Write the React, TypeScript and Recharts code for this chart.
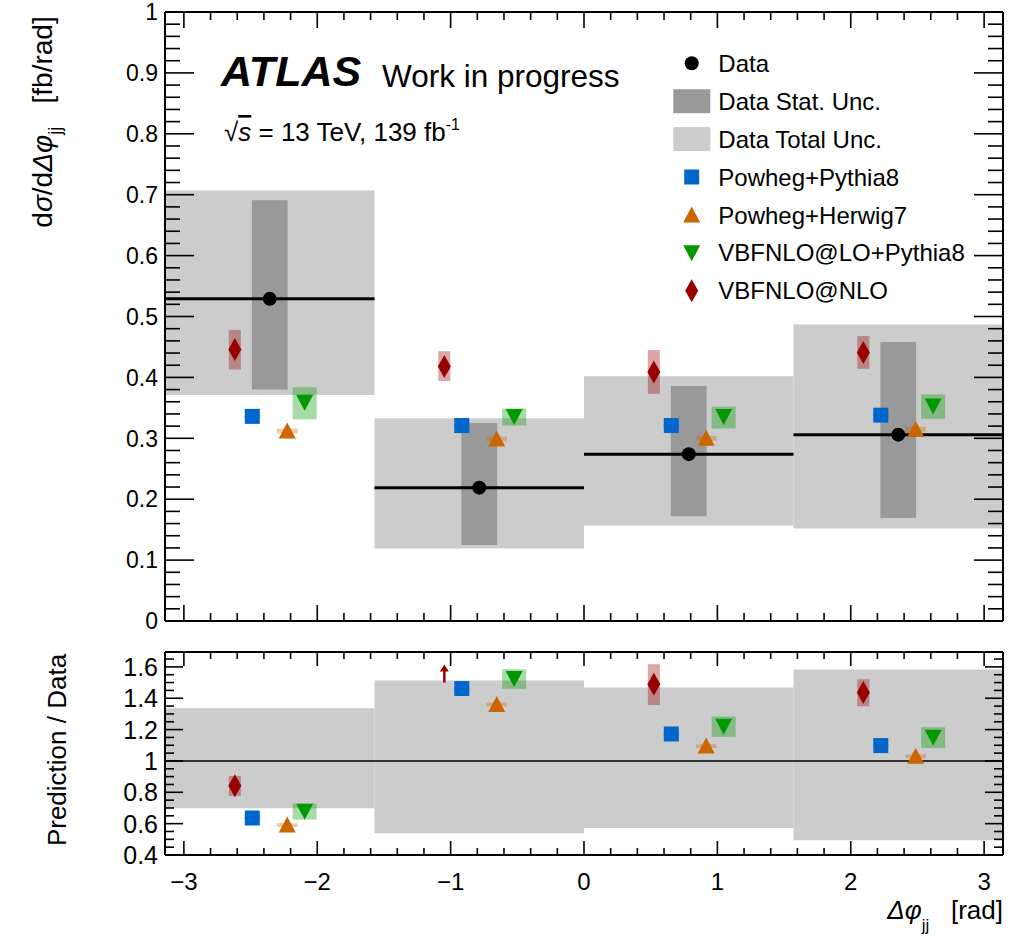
import React from 'react'
import { ComposedChart, Scatter, XAxis, YAxis, ReferenceArea, ReferenceLine, Legend } from 'recharts'

const PI = Math.PI
const FONT = '"Liberation Sans", Arial, Helvetica, sans-serif'

// four bins in delta phi_jj
const BIN_LO = [-PI, -PI / 2, 0, PI / 2]
const BIN_HI = [-PI / 2, 0, PI / 2, PI]
const BIN_MID = [-3 * PI / 4, -PI / 4, PI / 4, 3 * PI / 4]

// measured cross-section [fb/rad]
const DATA_Y = [0.529, 0.219, 0.274, 0.306]
const STAT_LO = [0.38, 0.125, 0.172, 0.169]
const STAT_HI = [0.691, 0.325, 0.386, 0.458]
const TOTAL_LO = [0.371, 0.119, 0.157, 0.152]
const TOTAL_HI = [0.707, 0.333, 0.402, 0.487]

// predictions
const PYTHIA_Y = [0.336, 0.321, 0.321, 0.338]
const PYTHIA_LO = [0.334, 0.319, 0.319, 0.336]
const PYTHIA_HI = [0.338, 0.323, 0.323, 0.34]
const HERWIG_Y = [0.312, 0.299, 0.3, 0.315]
const HERWIG_LO = [0.308, 0.295, 0.296, 0.311]
const HERWIG_HI = [0.316, 0.303, 0.304, 0.319]
const LO_Y = [0.359, 0.336, 0.336, 0.353]
const LO_LO = [0.331, 0.321, 0.316, 0.332]
const LO_HI = [0.384, 0.349, 0.352, 0.372]
const NLO_Y = [0.446, 0.418, 0.409, 0.441]
const NLO_LO = [0.413, 0.394, 0.373, 0.414]
const NLO_HI = [0.478, 0.443, 0.445, 0.468]

// prediction / data
const R_TOTAL_LO = [0.698, 0.539, 0.572, 0.494]
const R_TOTAL_HI = [1.336, 1.513, 1.468, 1.583]
const R_PYTHIA = [0.636, 1.462, 1.172, 1.098]
const R_PYTHIA_LO = [0.63, 1.456, 1.166, 1.092]
const R_PYTHIA_HI = [0.642, 1.468, 1.178, 1.104]
const R_HERWIG = [0.591, 1.36, 1.095, 1.03]
const R_HERWIG_LO = [0.579, 1.348, 1.083, 1.018]
const R_HERWIG_HI = [0.603, 1.372, 1.107, 1.042]
const R_LO = [0.679, 1.526, 1.221, 1.151]
const R_LO_LO = [0.626, 1.46, 1.153, 1.083]
const R_LO_HI = [0.728, 1.585, 1.283, 1.215]
const R_NLO = [0.842, 1.907, 1.49, 1.436]
const R_NLO_LO = [0.777, 1.8, 1.357, 1.349]
const R_NLO_HI = [0.904, 2.02, 1.617, 1.521]

const R_MIN = 0.4
const R_MAX = 1.695
const ARROW_BASE = 1.5 // where off-scale points get an arrow

const UP_Y_LABELS = ['0', '0.1', '0.2', '0.3', '0.4', '0.5', '0.6', '0.7', '0.8', '0.9', '1']
const LOW_Y_LABELS = ['0.4', '0.6', '0.8', '1', '1.2', '1.4', '1.6']

function steps(from: number, to: number, step: number) {
  const out: number[] = []
  const n = Math.round((to - from) / step)
  for (let i = 0; i <= n; i++) out.push(Math.round((from + i * step) * 1000) / 1000)
  return out
}
const X_TICKS = steps(-3, 3, 0.2)
const UP_Y_TICKS = steps(0, 1, 0.02)
const LOW_Y_TICKS = steps(0.4, 1.65, 0.05)

const MODELS = [
  { name: 'Powheg+Pythia8', kind: 'square', color: '#0066cc', band: 'rgba(0,102,204,0.35)', dx: -PI / 24, hw: 0.06,
    y: PYTHIA_Y, lo: PYTHIA_LO, hi: PYTHIA_HI, ry: R_PYTHIA, rlo: R_PYTHIA_LO, rhi: R_PYTHIA_HI },
  { name: 'Powheg+Herwig7', kind: 'up', color: '#cc6600', band: 'rgba(204,102,0,0.35)', dx: PI / 24, hw: 0.078,
    y: HERWIG_Y, lo: HERWIG_LO, hi: HERWIG_HI, ry: R_HERWIG, rlo: R_HERWIG_LO, rhi: R_HERWIG_HI },
  { name: 'VBFNLO@LO+Pythia8', kind: 'down', color: '#009900', band: 'rgba(0,153,0,0.35)', dx: PI / 12, hw: 0.09,
    y: LO_Y, lo: LO_LO, hi: LO_HI, ry: R_LO, rlo: R_LO_LO, rhi: R_LO_HI },
  { name: 'VBFNLO@NLO', kind: 'diamond', color: '#990000', band: 'rgba(153,0,0,0.35)', dx: -PI / 12, hw: 0.045,
    y: NLO_Y, lo: NLO_LO, hi: NLO_HI, ry: R_NLO, rlo: R_NLO_LO, rhi: R_NLO_HI },
]

const STAT_HW = 0.134

// plot boxes in svg pixels
const UP = { left: 165, right: 1003, top: 12, bottom: 621 }
const LOW = { left: 165, right: 1003, top: 12, bottom: 215 }

function Marker({ kind, cx, cy, color }: any) {
  if (cx == null || cy == null) return null
  switch (kind) {
    case 'circle':
      return <circle cx={cx} cy={cy} r={7} fill={color} />
    case 'square':
      return <rect x={cx - 7.5} y={cy - 7.5} width={15} height={15} fill={color} />
    case 'up':
      return <path d={`M${cx},${cy - 8.5} L${cx + 8.5},${cy + 7.5} L${cx - 8.5},${cy + 7.5} Z`} fill={color} />
    case 'down':
      return <path d={`M${cx - 8.5},${cy - 7.5} L${cx + 8.5},${cy - 7.5} L${cx},${cy + 8.5} Z`} fill={color} />
    case 'diamond':
      return <path d={`M${cx},${cy - 11.5} L${cx + 6.5},${cy} L${cx},${cy + 11.5} L${cx - 6.5},${cy} Z`} fill={color} />
    case 'arrow':
      return (
        <g>
          <line x1={cx} x2={cx} y1={cy} y2={cy - 13} stroke={color} strokeWidth={2.5} />
          <path d={`M${cx},${cy - 18} L${cx + 4.5},${cy - 11} L${cx - 4.5},${cy - 11} Z`} fill={color} />
        </g>
      )
    default:
      return null
  }
}

const isInt = (v: number, k: number) => Math.abs(v * k - Math.round(v * k)) < 1e-6

function xTick(box: any, major: number, minor: number, labels: boolean) {
  return (props: any) => {
    const x = props.x
    const v = props.payload.value
    const big = isInt(v, 1)
    const len = big ? major : minor
    return (
      <g>
        <line x1={x} x2={x} y1={box.bottom} y2={box.bottom - len} stroke="#000" strokeWidth={1.6} />
        <line x1={x} x2={x} y1={box.top} y2={box.top + len} stroke="#000" strokeWidth={1.6} />
        {labels && big && (
          <text x={x} y={box.bottom + 35} textAnchor="middle" fontSize={24} fontFamily={FONT} fill="#000">
            {v < 0 ? '\u2212' + Math.abs(v) : String(v)}
          </text>
        )}
      </g>
    )
  }
}

function yTick(box: any, major: number, minor: number, k: number, labels: string[], first: number, fs: number) {
  return (props: any) => {
    const y = props.y
    const v = props.payload.value
    const big = isInt(v, k)
    const len = big ? major : minor
    const label = big ? labels[Math.round((v - first) * k)] : null
    return (
      <g>
        <line x1={box.left} x2={box.left + len} y1={y} y2={y} stroke="#000" strokeWidth={1.6} />
        <line x1={box.right} x2={box.right - len} y1={y} y2={y} stroke="#000" strokeWidth={1.6} />
        {label && (
          <text x={box.left - 7} y={y + fs * 0.36} textAnchor="end" fontSize={fs} fontFamily={FONT} fill="#000">
            {label}
          </text>
        )}
      </g>
    )
  }
}

const LEGEND_ROWS = [
  { label: 'Data', kind: 'circle', color: '#000' },
  { label: 'Data Stat. Unc.', kind: 'box', color: '#999999' },
  { label: 'Data Total Unc.', kind: 'box', color: '#cccccc' },
  ...MODELS.map((m) => ({ label: m.name, kind: m.kind, color: m.color })),
]

function LegendBox() {
  return (
    <svg width={340} height={270} style={{ overflow: 'visible' }}>
      {LEGEND_ROWS.map((r, i) => {
        const cy = 23.3 + i * 37.9
        return (
          <g key={r.label}>
            {r.kind === 'box' ? (
              <rect x={13.3} y={cy - 12} width={37} height={24} fill={r.color} />
            ) : (
              <Marker kind={r.kind} cx={31.7} cy={cy} color={r.color} />
            )}
            <text x={58.3} y={cy + 8.6} fontSize={24} fontFamily={FONT} fill="#000">
              {r.label}
            </text>
          </g>
        )
      })}
    </svg>
  )
}

const BINS = [0, 1, 2, 3]

function UpperPanel() {
  return (
    <ComposedChart width={1020} height={640} margin={{ top: 12, right: 17, bottom: 0, left: 105 }}>
      {BINS.map((i) => (
        <ReferenceArea key={'t' + i} x1={BIN_LO[i]} x2={BIN_HI[i]} y1={TOTAL_LO[i]} y2={TOTAL_HI[i]}
          fill="#cccccc" fillOpacity={1} stroke="none" ifOverflow="hidden" />
      ))}
      {BINS.map((i) => (
        <ReferenceArea key={'s' + i} x1={BIN_MID[i] - STAT_HW} x2={BIN_MID[i] + STAT_HW} y1={STAT_LO[i]} y2={STAT_HI[i]}
          fill="#999999" fillOpacity={1} stroke="none" />
      ))}
      {MODELS.map((m) =>
        BINS.map((i) => (
          <ReferenceArea key={m.name + i} x1={BIN_MID[i] + m.dx - m.hw} x2={BIN_MID[i] + m.dx + m.hw}
            y1={m.lo[i]} y2={m.hi[i]} fill={m.band} fillOpacity={1} stroke="none" />
        ))
      )}
      {BINS.map((i) => (
        <ReferenceLine key={'d' + i} segment={[{ x: BIN_LO[i], y: DATA_Y[i] }, { x: BIN_HI[i], y: DATA_Y[i] }]}
          stroke="#000" strokeWidth={3} />
      ))}
      <ReferenceLine y={1} stroke="#000" strokeWidth={2} />
      <ReferenceLine x={PI} stroke="#000" strokeWidth={2} />
      <XAxis type="number" dataKey="x" domain={[-PI, PI]} allowDataOverflow ticks={X_TICKS} interval={0}
        tick={xTick(UP, 16, 8, false)} tickLine={false} axisLine={{ stroke: '#000', strokeWidth: 2 }} height={19} />
      <YAxis type="number" dataKey="y" domain={[0, 1]} allowDataOverflow ticks={UP_Y_TICKS} interval={0}
        tick={yTick(UP, 29, 15, 10, UP_Y_LABELS, 0, 23)} tickLine={false} axisLine={{ stroke: '#000', strokeWidth: 2 }} width={60} />
      {MODELS.map((m) => (
        <Scatter key={m.name} name={m.name} isAnimationActive={false} dataKey="y"
          data={BINS.map((i) => ({ x: BIN_MID[i] + m.dx, y: m.y[i] }))}
          shape={(p: any) => <Marker kind={m.kind} cx={p.cx} cy={p.cy} color={m.color} />} />
      ))}
      <Scatter name="Data" isAnimationActive={false} dataKey="y"
        data={BINS.map((i) => ({ x: BIN_MID[i], y: DATA_Y[i] }))}
        shape={(p: any) => <Marker kind="circle" cx={p.cx} cy={p.cy} color="#000" />} />
      <Legend content={() => <LegendBox />} verticalAlign="middle" align="center" layout="horizontal"
        wrapperStyle={{ top: 40, left: 660, width: 340, height: 270 }} />
    </ComposedChart>
  )
}

function LowerPanel() {
  return (
    <ComposedChart width={1020} height={307} margin={{ top: 12, right: 17, bottom: 42, left: 105 }}>
      {BINS.map((i) => (
        <ReferenceArea key={'t' + i} x1={BIN_LO[i]} x2={BIN_HI[i]} y1={R_TOTAL_LO[i]} y2={R_TOTAL_HI[i]}
          fill="#cccccc" fillOpacity={1} stroke="none" />
      ))}
      {MODELS.map((m) =>
        BINS.filter((i) => m.ry[i] <= R_MAX).map((i) => (
          <ReferenceArea key={m.name + i} x1={BIN_MID[i] + m.dx - m.hw} x2={BIN_MID[i] + m.dx + m.hw}
            y1={m.rlo[i]} y2={m.rhi[i]} fill={m.band} fillOpacity={1} stroke="none" />
        ))
      )}
      <ReferenceLine y={1} stroke="#000" strokeWidth={1.5} />
      <ReferenceLine y={R_MAX} stroke="#000" strokeWidth={2} />
      <ReferenceLine x={PI} stroke="#000" strokeWidth={2} />
      <XAxis type="number" dataKey="x" domain={[-PI, PI]} allowDataOverflow ticks={X_TICKS} interval={0}
        tick={xTick(LOW, 14, 7, true)} tickLine={false} axisLine={{ stroke: '#000', strokeWidth: 2 }} height={50} />
      <YAxis type="number" dataKey="y" domain={[R_MIN, R_MAX]} allowDataOverflow ticks={LOW_Y_TICKS} interval={0}
        tick={yTick(LOW, 18, 9, 5, LOW_Y_LABELS, 0.4, 25)} tickLine={false} axisLine={{ stroke: '#000', strokeWidth: 2 }} width={60} />
      {MODELS.map((m) => (
        <Scatter key={m.name} name={m.name} isAnimationActive={false} dataKey="y"
          data={BINS.map((i) => ({ x: BIN_MID[i] + m.dx, y: m.ry[i] > R_MAX ? ARROW_BASE : m.ry[i], off: m.ry[i] > R_MAX }))}
          shape={(p: any) => <Marker kind={p.payload && p.payload.off ? 'arrow' : m.kind} cx={p.cx} cy={p.cy} color={m.color} />} />
      ))}
    </ComposedChart>
  )
}

function Titles() {
  return (
    <svg width={1020} height={947} style={{ position: 'absolute', left: 0, top: 0, pointerEvents: 'none' }}>
      <g fontFamily={FONT} fill="#000">
        <text x={221} y={86} fontSize={43} fontWeight="bold" fontStyle="italic">ATLAS</text>
        <text x={382} y={87} fontSize={31.5}>Work in progress</text>
        <text x={224} y={141} fontSize={26}>
          <tspan>{'\u221A'}</tspan>
          <tspan fontStyle="italic" textDecoration="overline">s</tspan>
          <tspan>{'  = 13 TeV, 139 fb'}</tspan>
          <tspan fontSize={16} dy={-11}>-1</tspan>
        </text>
        <text transform="translate(52,122) rotate(-90)" textAnchor="middle" fontSize={28} xmlSpace="preserve">
          <tspan>d</tspan>
          <tspan fontStyle="italic">{'\u03C3'}</tspan>
          <tspan>/d</tspan>
          <tspan fontStyle="italic">{'\u0394\u03C6'}</tspan>
          <tspan fontSize={18} dy={9}>jj</tspan>
          <tspan dy={-9}>{'   [fb/rad]'}</tspan>
        </text>
        <text transform="translate(66,750) rotate(-90)" textAnchor="middle" fontSize={26}>Prediction / Data</text>
        <text x={1003} y={919} textAnchor="end" fontSize={26} xmlSpace="preserve">
          <tspan fontStyle="italic">{'\u0394\u03C6'}</tspan>
          <tspan fontSize={17} dy={12}>jj</tspan>
          <tspan dy={-12}>{'   [rad]'}</tspan>
        </text>
      </g>
    </svg>
  )
}

export default function App() {
  return (
    <div style={{ position: 'absolute', left: 0, top: 0, width: 1020, height: 947, background: '#fff', fontFamily: FONT }}>
      <div style={{ position: 'absolute', left: 0, top: 0 }}>
        <UpperPanel />
      </div>
      <div style={{ position: 'absolute', left: 0, top: 640 }}>
        <LowerPanel />
      </div>
      <Titles />
    </div>
  )
}
